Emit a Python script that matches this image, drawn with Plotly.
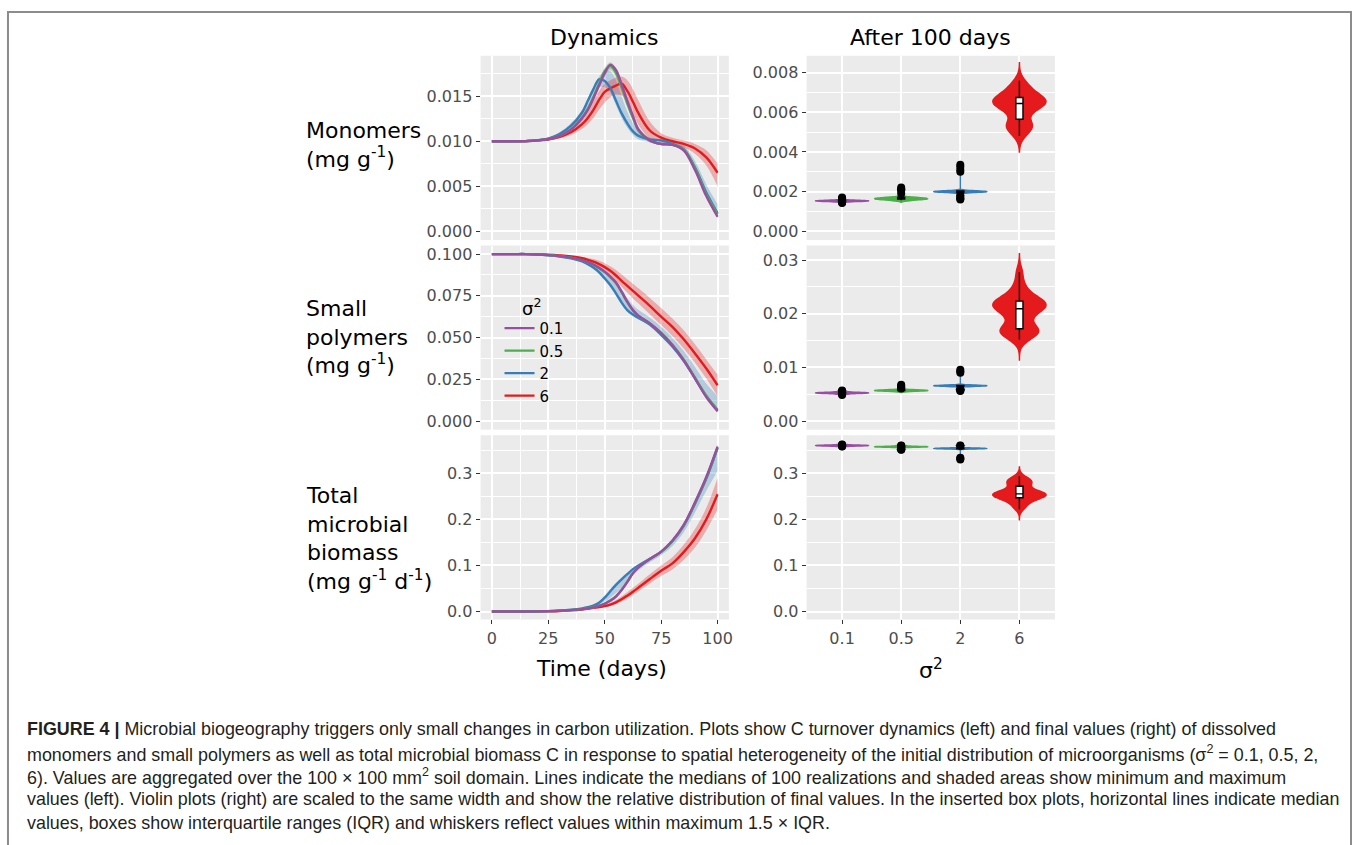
import plotly.graph_objects as go

W, H = 1357, 845

# ---------------- data ----------------
T = [0, 5, 10, 15, 20, 25, 30, 35, 40, 42.5, 45, 47.5, 50, 52.5, 55, 57.5,
     60, 62.5, 65, 70, 75, 80, 85, 90, 95, 100]
SIG = ['0.1', '0.5', '2', '6']

# Monomers (mg g-1): median, min, max
mono_med_01 = [.0100,.0100,.0100,.01002,.01008,.01025,.0106,.0113,.0126,.0135,.0148,.0162,.0176,.0185,.0179,.0163,.0145,.0128,.0113,.0101,.0097,.0096,.0090,.0068,.0039,.0016]
mono_lo_01  = [.0100,.0100,.0100,.0100,.0100,.0102,.0105,.0112,.0124,.0133,.0145,.0159,.0172,.0181,.0175,.0158,.0141,.0125,.0110,.0099,.0096,.0095,.0088,.0066,.0037,.0014]
mono_hi_01  = [.0100,.0100,.0100,.01004,.0101,.0103,.0107,.0115,.0128,.0138,.0151,.0165,.0179,.0187,.0182,.0167,.0149,.0131,.0116,.0103,.0098,.0097,.0092,.0070,.0041,.0018]
mono_med_05 = [.0100,.0100,.0100,.01002,.01008,.01025,.0106,.0113,.0126,.0136,.0149,.0164,.0178,.0184,.0176,.0160,.0142,.0126,.0112,.0101,.0097,.0096,.0091,.0070,.0041,.0019]
mono_lo_05  = [.0100,.0100,.0100,.0100,.0100,.0102,.0105,.0112,.0124,.0133,.0146,.0160,.0173,.0179,.0171,.0155,.0138,.0122,.0109,.0099,.0096,.0095,.0089,.0067,.0038,.0016]
mono_hi_05  = [.0100,.0100,.0100,.01004,.0101,.0103,.0107,.0115,.0129,.0139,.0153,.0168,.0182,.0188,.0181,.0166,.0147,.0130,.0115,.0103,.0098,.0097,.0093,.0073,.0044,.0022]
mono_med_2  = [.0100,.0100,.0100,.01002,.0101,.0103,.0108,.0117,.0132,.0145,.0158,.0169,.0167,.0159,.0145,.0131,.0120,.0111,.0106,.0102,.0101,.0097,.0091,.0071,.0043,.0020]
mono_lo_2   = [.0100,.0100,.0100,.0100,.0101,.0102,.0106,.0114,.0127,.0139,.0150,.0160,.0160,.0154,.0140,.0126,.0115,.0107,.0102,.0099,.0097,.0095,.0088,.0066,.0038,.0015]
mono_hi_2   = [.0100,.0100,.0100,.01005,.0102,.0104,.0110,.0120,.0135,.0148,.0160,.0172,.0178,.0178,.0168,.0150,.0133,.0120,.0112,.0104,.0102,.0100,.0095,.0078,.0052,.0030]
mono_med_6  = [.0100,.0100,.0100,.01001,.0101,.0102,.0105,.0110,.0119,.0126,.0135,.0146,.0155,.0159,.0162,.0164,.0156,.0144,.0131,.0112,.0104,.0100,.0097,.0092,.0082,.0065]
mono_lo_6   = [.0100,.0100,.0100,.0100,.0100,.0101,.0103,.0107,.0114,.0119,.0126,.0135,.0143,.0149,.0152,.0151,.0143,.0130,.0118,.0103,.0099,.0096,.0093,.0086,.0073,.0050]
mono_hi_6   = [.0100,.0100,.0100,.01003,.0102,.0104,.0108,.0114,.0125,.0134,.0145,.0156,.0164,.0168,.0171,.0172,.0168,.0158,.0145,.0122,.0109,.0104,.0101,.0097,.0090,.0075]

# Small polymers (mg g-1)
poly_med_01 = [.1000,.1000,.1000,.1000,.0998,.0994,.0988,.0979,.0964,.0952,.0938,.0918,.0895,.0865,.0830,.0775,.0715,.0665,.0630,.0585,.0527,.0455,.0365,.0255,.0145,.0060]
poly_lo_01  = [.1000,.1000,.1000,.1000,.0997,.0993,.0986,.0976,.0960,.0947,.0932,.0911,.0887,.0856,.0820,.0764,.0704,.0655,.0621,.0576,.0518,.0446,.0356,.0246,.0137,.0053]
poly_hi_01  = [.1000,.1000,.1000,.1000,.0999,.0995,.0990,.0982,.0968,.0957,.0944,.0925,.0903,.0874,.0840,.0786,.0726,.0675,.0639,.0594,.0536,.0464,.0374,.0264,.0154,.0068]
poly_med_05 = [.1000,.1000,.1000,.1000,.0998,.0994,.0988,.0979,.0963,.0951,.0937,.0916,.0892,.0862,.0826,.0772,.0712,.0663,.0629,.0585,.0528,.0457,.0368,.0260,.0152,.0068]
poly_lo_05  = [.1000,.1000,.1000,.1000,.0997,.0993,.0986,.0976,.0959,.0946,.0931,.0909,.0884,.0853,.0816,.0761,.0701,.0653,.0620,.0576,.0519,.0448,.0359,.0251,.0143,.0060]
poly_hi_05  = [.1000,.1000,.1000,.1000,.0999,.0995,.0990,.0982,.0967,.0956,.0943,.0923,.0900,.0871,.0836,.0783,.0723,.0673,.0638,.0594,.0537,.0466,.0377,.0269,.0161,.0076]
poly_med_2  = [.1000,.1000,.1000,.1000,.0998,.0993,.0986,.0975,.0956,.0940,.0920,.0892,.0855,.0815,.0765,.0710,.0665,.0638,.0618,.0578,.0517,.0448,.0362,.0258,.0150,.0065]
poly_lo_2   = [.1000,.1000,.1000,.0999,.0997,.0991,.0983,.0970,.0949,.0932,.0910,.0880,.0842,.0800,.0750,.0698,.0655,.0628,.0608,.0568,.0505,.0435,.0348,.0243,.0135,.0052]
poly_hi_2   = [.1000,.1000,.1000,.1000,.0999,.0996,.0990,.0982,.0967,.0956,.0942,.0923,.0900,.0872,.0838,.0790,.0738,.0695,.0665,.0620,.0565,.0500,.0420,.0325,.0225,.0150]
poly_med_6  = [.1000,.1000,.1000,.1000,.0999,.0996,.0992,.0986,.0975,.0966,.0955,.0940,.0922,.0900,.0872,.0840,.0810,.0780,.0750,.0690,.0626,.0565,.0490,.0405,.0315,.0215]
poly_lo_6   = [.1000,.1000,.1000,.0999,.0997,.0993,.0987,.0978,.0963,.0951,.0937,.0918,.0896,.0870,.0840,.0805,.0770,.0735,.0705,.0640,.0575,.0510,.0435,.0350,.0255,.0150]
poly_hi_6   = [.1000,.1000,.1000,.1000,.1000,.0998,.0995,.0991,.0983,.0977,.0970,.0960,.0946,.0928,.0905,.0878,.0850,.0823,.0795,.0738,.0678,.0615,.0545,.0460,.0370,.0278]

# Total microbial biomass (mg g-1 d-1)
bio_med_01 = [0,0,0,.0001,.0003,.0008,.0016,.0030,.0052,.0068,.0090,.0122,.0166,.0235,.0325,.0465,.0640,.0830,.0960,.1140,.1300,.1540,.1880,.2370,.2920,.3580]
bio_lo_01  = [0,0,0,.0001,.0003,.0007,.0015,.0028,.0049,.0064,.0085,.0115,.0157,.0224,.0312,.0448,.0620,.0808,.0940,.1118,.1275,.1510,.1845,.2330,.2870,.3520]
bio_hi_01  = [0,0,0,.0001,.0004,.0009,.0018,.0032,.0055,.0072,.0095,.0129,.0175,.0246,.0340,.0482,.0660,.0850,.0980,.1160,.1325,.1570,.1915,.2410,.2965,.3620]
bio_med_05 = [0,0,0,.0001,.0003,.0008,.0016,.0030,.0053,.0070,.0093,.0126,.0172,.0243,.0335,.0475,.0648,.0835,.0962,.1138,.1295,.1533,.1870,.2355,.2900,.3560]
bio_lo_05  = [0,0,0,.0001,.0003,.0007,.0015,.0028,.0050,.0065,.0087,.0118,.0161,.0229,.0318,.0455,.0626,.0812,.0940,.1115,.1270,.1505,.1835,.2315,.2855,.3505]
bio_hi_05  = [0,0,0,.0001,.0004,.0009,.0018,.0033,.0057,.0075,.0100,.0135,.0184,.0258,.0352,.0495,.0670,.0858,.0985,.1160,.1320,.1560,.1905,.2395,.2945,.3610]
bio_med_2  = [0,0,0,.0001,.0003,.0009,.0019,.0038,.0068,.0093,.0130,.0190,.0300,.0440,.0580,.0700,.0810,.0920,.1000,.1145,.1295,.1525,.1860,.2340,.2885,.3550]
bio_lo_2   = [0,0,0,.0001,.0003,.0008,.0016,.0032,.0058,.0078,.0108,.0150,.0215,.0300,.0400,.0510,.0640,.0780,.0900,.1070,.1220,.1420,.1720,.2150,.2620,.3050]
bio_hi_2   = [0,0,0,.0001,.0004,.0011,.0022,.0044,.0078,.0108,.0152,.0222,.0345,.0490,.0625,.0740,.0845,.0950,.1030,.1175,.1330,.1565,.1905,.2395,.2950,.3610]
bio_med_6  = [0,0,0,.0001,.0002,.0006,.0013,.0025,.0045,.0060,.0078,.0098,.0118,.0150,.0200,.0265,.0345,.0430,.0520,.0705,.0885,.1045,.1290,.1590,.2000,.2545]
bio_lo_6   = [0,0,0,.0001,.0002,.0005,.0011,.0021,.0038,.0050,.0065,.0080,.0095,.0120,.0160,.0215,.0285,.0360,.0440,.0610,.0770,.0915,.1120,.1390,.1760,.2220]
bio_hi_6   = [0,0,0,.0001,.0003,.0008,.0016,.0031,.0055,.0073,.0095,.0120,.0145,.0190,.0250,.0330,.0420,.0515,.0610,.0810,.1000,.1180,.1450,.1790,.2250,.2900]

# Final values after 100 days (samples of the realizations)
fin_mono_01 = [0.00142,0.00145,0.00150,0.00151,0.00151,0.00152,0.00152,0.00152,0.00152,0.00153,0.00153,0.00153,0.00153,0.00154,0.00154,0.00155,0.00155,0.00156,0.00162,0.00166,0.00170]
fin_mono_05 = [0.00156,0.00158,0.00160,0.00161,0.00162,0.00163,0.00163,0.00164,0.00164,0.00165,0.00165,0.00166,0.00167,0.00168,0.00170,0.00172,0.00190,0.00205,0.00212,0.00220]
fin_mono_2  = [0.00160,0.00165,0.00172,0.00180,0.00185,0.00194,0.00196,0.00197,0.00198,0.00198,0.00199,0.00199,0.00200,0.00200,0.00200,0.00201,0.00201,0.00202,0.00203,0.00204,0.00206,0.00300,0.00310,0.00325,0.00335]
fin_mono_6  = [0.0048,0.0050,0.0052,0.0053,0.0053,0.0054,0.0055,0.0058,0.0060,0.0061,0.0062,0.0063,0.0064,0.0064,0.0065,0.0065,0.0065,0.0066,0.0066,0.0067,0.0067,0.0068,0.0069,0.0070,0.0071,0.0072,0.0074,0.0076]
fin_poly_01 = [0.00490,0.00500,0.00518,0.00520,0.00522,0.00523,0.00524,0.00525,0.00526,0.00526,0.00527,0.00527,0.00528,0.00529,0.00530,0.00532,0.00534,0.00550,0.00560,0.00570]
fin_poly_05 = [0.00560,0.00563,0.00565,0.00566,0.00567,0.00568,0.00569,0.00570,0.00570,0.00571,0.00571,0.00572,0.00573,0.00574,0.00575,0.00577,0.00580,0.00583,0.00610,0.00625,0.00640,0.00660,0.00680]
fin_poly_2  = [0.00560,0.00575,0.00590,0.00600,0.00650,0.00653,0.00655,0.00657,0.00658,0.00659,0.00660,0.00660,0.00661,0.00662,0.00663,0.00665,0.00667,0.00670,0.00900,0.00930,0.00960]
fin_poly_6  = [0.0152,0.0158,0.0163,0.0166,0.0167,0.0168,0.0170,0.0174,0.0180,0.0188,0.0195,0.0200,0.0205,0.0208,0.0211,0.0213,0.0215,0.0216,0.0218,0.0220,0.0222,0.0225,0.0228,0.0232,0.0238,0.0245,0.0258,0.0278]
fin_bio_01  = [0.3585,0.3590,0.3598,0.3600,0.3601,0.3602,0.3603,0.3603,0.3604,0.3604,0.3605,0.3605,0.3606,0.3607,0.3608,0.3610,0.3620,0.3625]
fin_bio_05  = [0.3510,0.3520,0.3535,0.3550,0.3570,0.3572,0.3574,0.3575,0.3576,0.3577,0.3577,0.3578,0.3579,0.3580,0.3582,0.3585,0.3600,0.3605]
fin_bio_2   = [0.3300,0.3320,0.3340,0.3530,0.3533,0.3535,0.3537,0.3538,0.3539,0.3540,0.3540,0.3541,0.3542,0.3543,0.3545,0.3547,0.3550,0.3600,0.3606]
fin_bio_6   = [0.222,0.228,0.233,0.237,0.240,0.243,0.245,0.247,0.249,0.250,0.251,0.252,0.253,0.254,0.255,0.256,0.257,0.258,0.259,0.261,0.264,0.268,0.272,0.275,0.278,0.282,0.284,0.285,0.287,0.294]

# kernel bandwidths of the violins (per sigma) and spans of the wide ones
BW = {
    'mono': [0.000025, 0.00005, 0.00003, 0.0003],
    'poly': [0.0001, 0.00012, 0.0001, 0.00115],
    'bio':  [0.0008, 0.0008, 0.0008, 0.007],
}
SPAN6 = {'mono': [0.0040, 0.0085], 'poly': [0.0114, 0.0312], 'bio': [0.199, 0.314]}

DYN = {
    'mono': [(mono_med_01, mono_lo_01, mono_hi_01), (mono_med_05, mono_lo_05, mono_hi_05),
             (mono_med_2, mono_lo_2, mono_hi_2), (mono_med_6, mono_lo_6, mono_hi_6)],
    'poly': [(poly_med_01, poly_lo_01, poly_hi_01), (poly_med_05, poly_lo_05, poly_hi_05),
             (poly_med_2, poly_lo_2, poly_hi_2), (poly_med_6, poly_lo_6, poly_hi_6)],
    'bio':  [(bio_med_01, bio_lo_01, bio_hi_01), (bio_med_05, bio_lo_05, bio_hi_05),
             (bio_med_2, bio_lo_2, bio_hi_2), (bio_med_6, bio_lo_6, bio_hi_6)],
}
FIN = {
    'mono': [fin_mono_01, fin_mono_05, fin_mono_2, fin_mono_6],
    'poly': [fin_poly_01, fin_poly_05, fin_poly_2, fin_poly_6],
    'bio':  [fin_bio_01, fin_bio_05, fin_bio_2, fin_bio_6],
}
for key in DYN:
    for trip in DYN[key]:
        for arr in trip:
            assert len(arr) == len(T), (key, len(arr))

ROWKEYS = ['mono', 'poly', 'bio']
ROW_LABELS = ['Monomers<br>(mg g<sup>-1</sup>)',
              'Small<br>polymers<br>(mg g<sup>-1</sup>)',
              'Total<br>microbial<br>biomass<br>(mg g<sup>-1</sup> d<sup>-1</sup>)']

# ---------------- style ----------------
COL = {'0.1': '#984EA3', '0.5': '#4DAF4A', '2': '#377EB8', '6': '#E41A1C'}
BAND = {'0.1': 'rgba(152,78,163,0.3)', '0.5': 'rgba(77,175,74,0.3)',
        '2': 'rgba(55,126,184,0.3)', '6': 'rgba(228,26,28,0.3)'}
FONT = 'DejaVu Sans'
TICKC = '#4D4D4D'

def fx(p):
    return p / W

def fy(p):
    return 1 - p / H

LEFT = (482, 731)
RIGHT = (809, 1058)
ROWS = [(55.0, 239.9), (245.4, 430.2), (435.8, 620.7)]
YR_L = [[-0.00099, 0.01951], [-0.00507, 0.10513], [-0.0173, 0.3827]]
YR_R = [[-0.000448, 0.008855], [-0.00158, 0.03271], [-0.0173, 0.3827]]
YTICK_L = [(0.005, 0.0025, '.3f'), (0.025, 0.0125, '.3f'), (0.1, 0.05, '.1f')]
YTICK_R = [(0.002, 0.001, '.3f'), (0.01, 0.005, '.2f'), (0.1, 0.05, '.1f')]

fig = go.Figure()
layout = dict(
    width=W, height=H, autosize=False,
    margin=dict(l=0, r=0, t=0, b=0, pad=0),
    paper_bgcolor='white', plot_bgcolor='#EBEBEB',
    violinmode='overlay', boxmode='overlay',
    showlegend=True,
)

order_lines = [3, 2, 1, 0]   # red at bottom, purple on top
for r, key in enumerate(ROWKEYS):
    kl = 2 * r + 1
    kr = 2 * r + 2
    xa_l, ya_l = 'x%d' % kl, 'y%d' % kl
    xa_r, ya_r = 'x%d' % kr, 'y%d' % kr
    # bands
    for i, s in enumerate(SIG):
        med, lo, hi = DYN[key][i]
        fig.add_trace(go.Scatter(x=T, y=lo, mode='lines', line=dict(width=0, shape='spline'),
                                 xaxis=xa_l, yaxis=ya_l, showlegend=False, hoverinfo='skip'))
        fig.add_trace(go.Scatter(x=T, y=hi, mode='lines', line=dict(width=0, shape='spline'),
                                 fill='tonexty', fillcolor=BAND[s],
                                 xaxis=xa_l, yaxis=ya_l, showlegend=False, hoverinfo='skip'))
    # median lines
    for i in order_lines:
        s = SIG[i]
        med = DYN[key][i][0]
        fig.add_trace(go.Scatter(x=T, y=med, mode='lines', name=s,
                                 line=dict(color=COL[s], width=2.4, shape='spline'),
                                 xaxis=xa_l, yaxis=ya_l, showlegend=(r == 0),
                                 legendrank=i + 1, hoverinfo='skip'))
    # violins + boxes
    for i, s in enumerate(SIG):
        vals = FIN[key][i]
        vkw = dict(spanmode='soft')
        if s == '6':
            vkw = dict(spanmode='manual', span=SPAN6[key])
        fig.add_trace(go.Violin(x=[s] * len(vals), y=vals, xaxis=xa_r, yaxis=ya_r,
                                fillcolor=COL[s], line=dict(color=COL[s], width=1.5),
                                opacity=1, width=0.9, scalemode='width', bandwidth=BW[key][i],
                                points=False, box=dict(visible=False), meanline=dict(visible=False),
                                showlegend=False, hoverinfo='skip', **vkw))
        fig.add_trace(go.Box(x=[s] * len(vals), y=vals, xaxis=xa_r, yaxis=ya_r,
                             width=0.12, fillcolor='white', line=dict(color='black', width=1.4),
                             whiskerwidth=0, boxpoints='outliers', jitter=0, pointpos=0,
                             marker=dict(color='black', size=8, line=dict(width=0)),
                             showlegend=False, hoverinfo='skip'))

    bottom = (r == 2)
    y0, y1 = ROWS[r]
    dom_y = [fy(y1), fy(y0)]
    # left axes
    layout['xaxis%d' % kl] = dict(
        domain=[fx(LEFT[0]), fx(LEFT[1])], anchor=ya_l, range=[-5, 105],
        tickmode='linear', tick0=0, dtick=25, showgrid=True, gridcolor='white', gridwidth=1.6,
        minor=dict(dtick=12.5, showgrid=True, gridcolor='white', gridwidth=0.8, ticks=''),
        zeroline=False, showline=False,
        showticklabels=bottom, ticks='outside' if bottom else '', ticklen=4,
        tickcolor='#333333', tickwidth=1.1,
        tickfont=dict(family=FONT, size=16, color=TICKC))
    dt, mdt, fmt = YTICK_L[r]
    layout['yaxis%d' % kl] = dict(
        domain=dom_y, anchor=xa_l, range=YR_L[r],
        tickmode='linear', tick0=0, dtick=dt, tickformat=fmt,
        showgrid=True, gridcolor='white', gridwidth=1.6,
        minor=dict(dtick=mdt, showgrid=True, gridcolor='white', gridwidth=0.8, ticks=''),
        zeroline=False, showline=False, ticks='outside', ticklen=4,
        tickcolor='#333333', tickwidth=1.1,
        tickfont=dict(family=FONT, size=16, color=TICKC))
    # right axes
    layout['xaxis%d' % kr] = dict(
        domain=[fx(RIGHT[0]), fx(RIGHT[1])], anchor=ya_r, type='category',
        categoryorder='array', categoryarray=SIG, range=[-0.6, 3.6],
        showgrid=True, gridcolor='white', gridwidth=1.6, zeroline=False, showline=False,
        showticklabels=bottom, ticks='outside' if bottom else '', ticklen=4,
        tickcolor='#333333', tickwidth=1.1,
        tickfont=dict(family=FONT, size=16, color=TICKC))
    dt, mdt, fmt = YTICK_R[r]
    layout['yaxis%d' % kr] = dict(
        domain=dom_y, anchor=xa_r, range=YR_R[r],
        tickmode='linear', tick0=0, dtick=dt, tickformat=fmt,
        showgrid=True, gridcolor='white', gridwidth=1.6,
        minor=dict(dtick=mdt, showgrid=True, gridcolor='white', gridwidth=0.8, ticks=''),
        zeroline=False, showline=False, ticks='outside', ticklen=4,
        tickcolor='#333333', tickwidth=1.1,
        tickfont=dict(family=FONT, size=16, color=TICKC))

layout['legend'] = dict(
    x=fx(501), y=fy(312), xanchor='left', yanchor='top', traceorder='normal',
    bgcolor='rgba(0,0,0,0)', borderwidth=0, tracegroupgap=0,
    font=dict(family=FONT, size=15, color='black'),
)

ann = []
ann.append(dict(text='σ<sup>2</sup>', x=fx(522), y=fy(307), xref='paper', yref='paper',
                showarrow=False, xanchor='left', yanchor='middle',
                font=dict(family=FONT, size=18, color='black')))
ann.append(dict(text='Dynamics', x=fx(606.5), y=fy(37), xref='paper', yref='paper',
                showarrow=False, xanchor='center', yanchor='middle',
                font=dict(family=FONT, size=22, color='black')))
ann.append(dict(text='After 100 days', x=fx(933.5), y=fy(37), xref='paper', yref='paper',
                showarrow=False, xanchor='center', yanchor='middle',
                font=dict(family=FONT, size=22, color='black')))
ann.append(dict(text='Time (days)', x=fx(603), y=fy(670), xref='paper', yref='paper',
                showarrow=False, xanchor='center', yanchor='middle',
                font=dict(family=FONT, size=22, color='black')))
ann.append(dict(text='σ<sup>2</sup>', x=fx(934), y=fy(670), xref='paper', yref='paper',
                showarrow=False, xanchor='center', yanchor='middle',
                font=dict(family=FONT, size=22, color='black')))
ROW_LABEL_Y = [145, 337, 539]
for r in range(3):
    ann.append(dict(text=ROW_LABELS[r], x=fx(305), y=fy(ROW_LABEL_Y[r]), xref='paper', yref='paper',
                    showarrow=False, xanchor='left', yanchor='middle', align='left',
                    font=dict(family=FONT, size=22, color='black')))

CAPTION = [
    '<b>FIGURE 4 |</b> Microbial biogeography triggers only small changes in carbon utilization. Plots show C turnover dynamics (left) and final values (right) of dissolved',
    'monomers and small polymers as well as total microbial biomass C in response to spatial heterogeneity of the initial distribution of microorganisms (σ<sup>2</sup> = 0.1, 0.5, 2,',
    '6). Values are aggregated over the 100 × 100 mm<sup>2</sup> soil domain. Lines indicate the medians of 100 realizations and shaded areas show minimum and maximum',
    'values (left). Violin plots (right) are scaled to the same width and show the relative distribution of final values. In the inserted box plots, horizontal lines indicate median',
    'values, boxes show interquartile ranges (IQR) and whiskers reflect values within maximum 1.5 × IQR.',
]
CAP_Y = [731, 755, 778, 801, 825]
for line, yy in zip(CAPTION, CAP_Y):
    ann.append(dict(text=line, x=fx(25), y=fy(yy), xref='paper', yref='paper',
                    showarrow=False, xanchor='left', yanchor='middle', align='left',
                    font=dict(family='Liberation Sans', size=17.9, color='#231F20')))
layout['annotations'] = ann

layout['shapes'] = [
    dict(type='path', xref='paper', yref='paper',
         path='M %f %f L %f %f L %f %f L %f %f' % (fx(8), fy(860), fx(8), fy(11),
                                                  fx(1355), fy(11), fx(1355), fy(860)),
         line=dict(color='#8C8C8C', width=2))
]

fig.update_layout(**layout)
fig.write_html('out.html')
